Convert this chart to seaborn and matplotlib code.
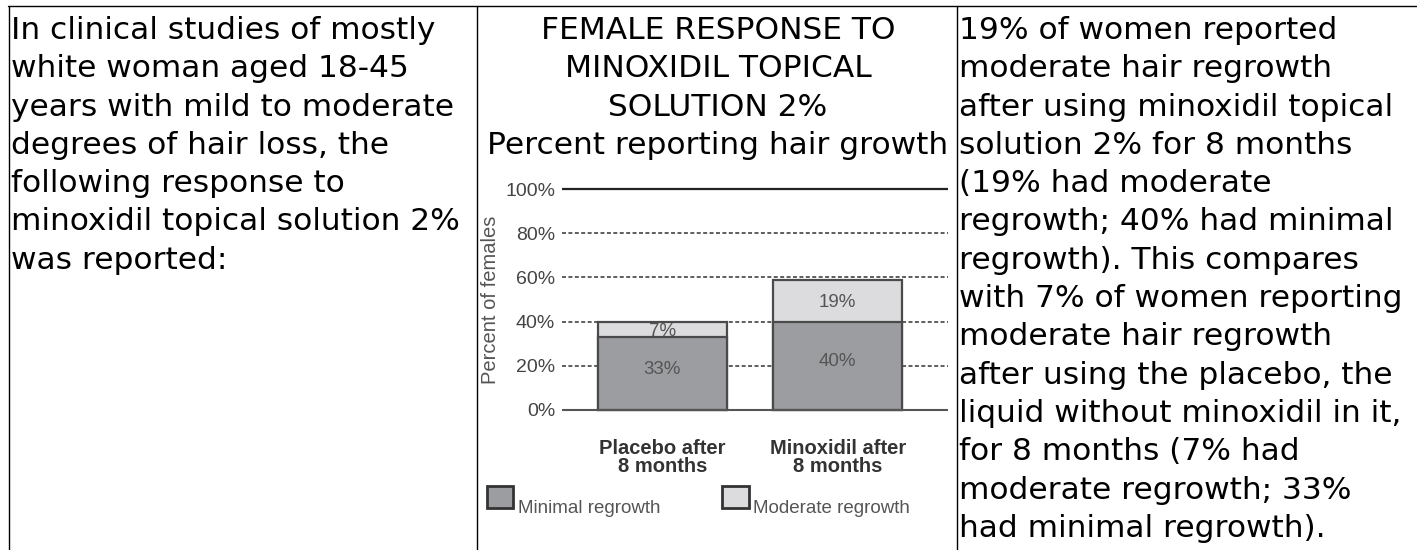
import matplotlib
matplotlib.use("Agg")
import matplotlib.pyplot as plt
from matplotlib.lines import Line2D
from matplotlib.patches import Patch
import seaborn as sns
import pandas as pd

# chart data
groups = ["Placebo after\n8 months", "Minoxidil after\n8 months"]
minimal = [33, 40]
moderate = [7, 19]
series_labels = ["Minimal regrowth", "Moderate regrowth"]
y_ticks = [0, 20, 40, 60, 80, 100]
tick_labels = ["0%", "20%", "40%", "60%", "80%", "100%"]

# table text
left_lines = [
    "In clinical studies of mostly",
    "white woman aged 18-45",
    "years with mild to moderate",
    "degrees of hair loss, the",
    "following response to",
    "minoxidil topical solution 2%",
    "was reported:",
]
title_lines = [
    "FEMALE RESPONSE TO",
    "MINOXIDIL TOPICAL",
    "SOLUTION 2%",
    "Percent reporting hair growth",
]
right_lines = [
    "19% of women reported",
    "moderate hair regrowth",
    "after using minoxidil topical",
    "solution 2% for 8 months",
    "(19% had moderate",
    "regrowth; 40% had minimal",
    "regrowth). This compares",
    "with 7% of women reporting",
    "moderate hair regrowth",
    "after using the placebo, the",
    "liquid without minoxidil in it,",
    "for 8 months (7% had",
    "moderate regrowth; 33%",
    "had minimal regrowth).",
]

W, H = 1417, 550
DARK = "#9b9da0"
LIGHT = "#dcdcde"
EDGE = "#4a4a4a"
CHART_FONT = "Liberation Sans"

sns.set_theme(style="white")
plt.rcParams["font.family"] = ["DejaVu Sans"]

fig = plt.figure(figsize=(W / 100, H / 100), dpi=100)


def fx(px):
    return px / W


def fy(py):
    return 1 - py / H


# table borders
for x0, y0, x1, y1 in [(8, 6, W, 6), (8.5, 6, 8.5, H), (477, 6, 477, H), (956.5, 6, 956.5, H)]:
    fig.add_artist(Line2D([fx(x0), fx(x1)], [fy(y0), fy(y1)], color="black", lw=1.0))

BASE = 39
STEP = 38.3
FS = 22.5
for i, line in enumerate(left_lines):
    fig.text(fx(11), fy(BASE + i * STEP), line, fontsize=FS, va="baseline", ha="left", color="black")
for i, line in enumerate(title_lines):
    fig.text(fx(718), fy(BASE + i * STEP), line, fontsize=FS, va="baseline", ha="center", color="black")
for i, line in enumerate(right_lines):
    fig.text(fx(959), fy(BASE + i * STEP), line, fontsize=FS, va="baseline", ha="left", color="black")

# chart axes: 0% at y=410px, 100% at y=191px
ppu = (410 - 191) / 100
ax = fig.add_axes([fx(562), fy(410 + ppu), fx(948) - fx(562), (221 + 2 * ppu) / H])

df = pd.DataFrame({"group": groups, "minimal": minimal, "moderate": moderate})
df["total"] = df["minimal"] + df["moderate"]

for v in y_ticks:
    if v == 100:
        ax.axhline(v, color="#222222", lw=1.6, zorder=0)
    elif v == 0:
        ax.axhline(v, color="#555555", lw=1.5, zorder=3)
    else:
        ax.axhline(v, color="#333333", lw=1.1, ls=(0, (2.6, 1.6)), zorder=0)

sns.barplot(data=df, x="group", y="total", color=LIGHT, edgecolor=EDGE, linewidth=1.6,
            width=0.74, saturation=1, errorbar=None, ax=ax, zorder=2)
sns.barplot(data=df, x="group", y="minimal", color=DARK, edgecolor=EDGE, linewidth=1.6,
            width=0.74, saturation=1, errorbar=None, ax=ax, zorder=2)

for i, (mn, md) in enumerate(zip(minimal, moderate)):
    ax.text(i, mn / 2 + 2, f"{mn}%", ha="center", va="center", fontsize=13.5,
            color="#555555", family=CHART_FONT, zorder=4)
    ax.text(i, mn + md / 2 - 1, f"{md}%", ha="center", va="center", fontsize=13.5,
            color="#555555", family=CHART_FONT, zorder=4)

ax.set_xlim(-0.574, 1.63)
ax.set_ylim(-1, 101)
for s in ax.spines.values():
    s.set_visible(False)

ax.set_yticks(y_ticks, tick_labels)
ax.tick_params(axis="y", length=0, pad=5, labelsize=14, labelcolor="#444444")
ax.set_xticks([0, 1], groups)
ax.tick_params(axis="x", length=0, pad=19, labelsize=14.5, labelcolor="#333333")
for lbl in ax.get_yticklabels():
    lbl.set_family(CHART_FONT)
for lbl in ax.get_xticklabels():
    lbl.set_family(CHART_FONT)
    lbl.set_fontweight("bold")
    lbl.set_linespacing(0.95)

ax.set_xlabel("")
ax.set_ylabel("Percent of females", fontsize=14.5, color="#555555", family=CHART_FONT)
ax.yaxis.set_label_coords((500 - 562) / 386, 0.5)

handles = [
    Patch(facecolor=DARK, edgecolor="#333333", lw=2, label=series_labels[0]),
    Patch(facecolor=LIGHT, edgecolor="#333333", lw=2, label=series_labels[1]),
]
leg = fig.legend(handles=handles, loc="upper left", bbox_to_anchor=(fx(487), fy(486)), ncol=2,
                 frameon=False, borderpad=0, borderaxespad=0, handlelength=1.4, handleheight=1.4,
                 handletextpad=0.25, columnspacing=3.3, labelcolor="#555555",
                 prop={"family": CHART_FONT, "size": 13.5})
# labels sit low, next to the bottom of the squares
for t in leg.get_texts():
    t.set_y(-10)

fig.savefig("out.png", dpi=100)
